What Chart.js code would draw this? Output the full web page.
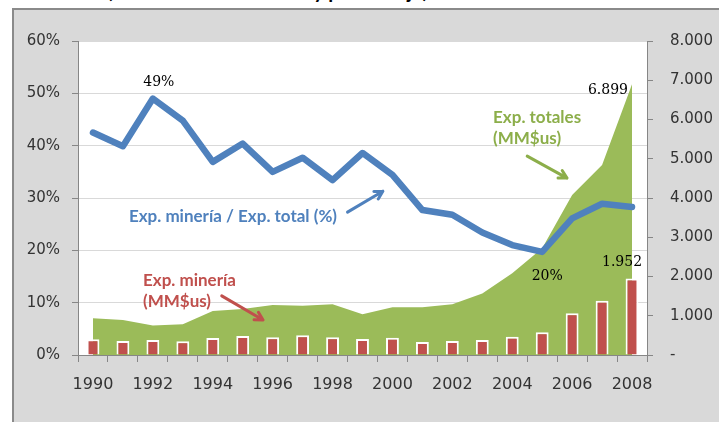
<!DOCTYPE html>
<html>
<head>
<meta charset="utf-8">
<script src="https://cdn.jsdelivr.net/npm/chart.js@4.4.1/dist/chart.umd.min.js"></script>
<style>
  html, body { margin: 0; padding: 0; background: #fff; }
  body { width: 719px; height: 422px; position: relative; overflow: hidden; }
  #title { position: absolute; left: 0; top: -22.5px; width: 535px; text-align: center;
           font: bold 20px Lato, sans-serif; color: #000; white-space: nowrap; }
  #frame { position: absolute; left: 12px; top: 8px; width: 720px; height: 420px;
           background: #d9d9d9; border-left: 2px solid #8a8a8a; border-top: 2px solid #8a8a8a; }
  #chart { position: absolute; left: 0; top: 0; }
</style>
</head>
<body>
<div id="title">(en millones de dólares y porcentaje)</div>
<div id="frame"></div>
<canvas id="chart" width="719" height="422"></canvas>
<script>
// Years on the category axis
const years = [1990, 1991, 1992, 1993, 1994, 1995, 1996, 1997, 1998, 1999,
               2000, 2001, 2002, 2003, 2004, 2005, 2006, 2007, 2008];

// Exp. minería / Exp. total (%)
const miningShare = [42.5, 39.9, 49.0, 44.8, 36.9, 40.4, 35.0, 37.7, 33.4, 38.6,
                     34.4, 27.7, 26.8, 23.4, 21.0, 19.7, 26.1, 28.9, 28.3];

// Exp. totales (MM$us)
const totalExports = [935, 890, 750, 785, 1120, 1170, 1275, 1255, 1290, 1040,
                      1215, 1215, 1290, 1570, 2080, 2720, 4075, 4840, 6899];

// Exp. minería (MM$us)
const miningExports = [400, 357, 382, 348, 433, 484, 450, 501, 450, 405,
                       441, 331, 357, 382, 467, 577, 1062, 1384, 1952];

// Axis tick values
const pctTicks = [0, 10, 20, 30, 40, 50, 60];
const usdTicks = [0, 1000, 2000, 3000, 4000, 5000, 6000, 7000, 8000];

const BLUE = '#4f81bd';
const GREEN = '#9bbb59';
const RED = '#c0504d';
const AXIS = '#868686';
const Y_FONT = { family: 'DejaVu Sans', size: 15 };
const X_FONT = { family: 'DejaVu Sans', size: 16 };

function fmtThousands(v) {
    if (v === 0) return '-';
    return String(Math.round(v)).replace(/\B(?=(\d{3})+(?!\d))/g, '.');
}

// Free text callouts with arrows, placed in data coordinates (category index, % axis)
const callouts = [
    { lines: ['Exp. minería / Exp. total (%)'], color: BLUE, x: 1.2, y: 26.4,
      arrow: [8.5, 27.3, 9.68, 31.3] },
    { lines: ['Exp. totales', '(MM$us)'], color: '#8cae4a', x: 13.36, y: 45.3,
      arrow: [14.5, 38.0, 15.83, 33.8] },
    { lines: ['Exp. minería', '(MM$us)'], color: RED, x: 1.67, y: 14.3,
      arrow: [4.3, 11.3, 5.68, 6.7] }
];

const plotBackground = {
    id: 'plotBackground',
    beforeDraw(chart) {
        const { ctx, chartArea: a } = chart;
        ctx.save();
        ctx.fillStyle = '#ffffff';
        ctx.fillRect(a.left, a.top, a.right - a.left, a.bottom - a.top);
        ctx.restore();
    }
};

function drawArrow(ctx, x1, y1, x2, y2, color) {
    const ang = Math.atan2(y2 - y1, x2 - x1);
    const head = 9;
    ctx.save();
    ctx.strokeStyle = color;
    ctx.lineWidth = 3;
    ctx.lineCap = 'round';
    ctx.lineJoin = 'round';
    ctx.beginPath();
    ctx.moveTo(x1, y1);
    ctx.lineTo(x2, y2);
    ctx.moveTo(x2 - head * Math.cos(ang - 0.5), y2 - head * Math.sin(ang - 0.5));
    ctx.lineTo(x2, y2);
    ctx.lineTo(x2 - head * Math.cos(ang + 0.5), y2 - head * Math.sin(ang + 0.5));
    ctx.stroke();
    ctx.restore();
}

const annotations = {
    id: 'annotations',
    afterDatasetsDraw(chart) {
        const { ctx, scales } = chart;
        const xs = scales.x, ys = scales.y;
        const px = i => xs.getPixelForValue(0) + i * (xs.getPixelForValue(1) - xs.getPixelForValue(0));

        // callouts
        ctx.save();
        ctx.font = 'bold 17px Lato, sans-serif';
        ctx.textBaseline = 'middle';
        ctx.textAlign = 'left';
        callouts.forEach(c => {
            ctx.fillStyle = c.color;
            c.lines.forEach((t, k) => {
                ctx.fillText(t, px(c.x), ys.getPixelForValue(c.y) + k * 21);
            });
            const a = c.arrow;
            drawArrow(ctx, px(a[0]), ys.getPixelForValue(a[1]), px(a[2]), ys.getPixelForValue(a[3]), c.color);
        });
        ctx.restore();

        // data labels
        const lineMeta = chart.getDatasetMeta(0).data;
        const barMeta = chart.getDatasetMeta(1).data;
        const areaMeta = chart.getDatasetMeta(2).data;
        const last = years.length - 1;
        const peak = years.indexOf(1992);
        const low = years.indexOf(2005);
        ctx.save();
        ctx.font = '14px "DejaVu Serif", serif';
        ctx.fillStyle = '#000';
        ctx.textBaseline = 'middle';
        ctx.textAlign = 'center';
        ctx.fillText(Math.round(miningShare[peak]) + '%', lineMeta[peak].x + 6, lineMeta[peak].y - 16);
        ctx.fillText(Math.round(miningShare[low]) + '%', lineMeta[low].x + 5, lineMeta[low].y + 24);
        ctx.fillText(fmtThousands(miningExports[last]), barMeta[last].x - 10, barMeta[last].y - 16);
        ctx.textAlign = 'right';
        ctx.fillText(fmtThousands(totalExports[last]), areaMeta[last].x - 4, areaMeta[last].y + 6);
        ctx.restore();
    }
};

const ctx = document.getElementById('chart').getContext('2d');

new Chart(ctx, {
    type: 'bar',
    data: {
        labels: years,
        datasets: [
            {
                type: 'line',
                label: 'Exp. minería / Exp. total (%)',
                data: miningShare,
                yAxisID: 'y',
                borderColor: BLUE,
                borderWidth: 6.5,
                borderJoinStyle: 'round',
                borderCapStyle: 'round',
                pointRadius: 0,
                tension: 0,
                fill: false,
                order: 1
            },
            {
                type: 'bar',
                label: 'Exp. minería (MM$us)',
                data: miningExports,
                yAxisID: 'y1',
                backgroundColor: RED,
                borderColor: '#ffffff',
                borderWidth: 2,
                barPercentage: 0.43,
                categoryPercentage: 1,
                order: 2
            },
            {
                type: 'line',
                label: 'Exp. totales (MM$us)',
                data: totalExports,
                yAxisID: 'y1',
                backgroundColor: GREEN,
                borderColor: 'rgba(0,0,0,0)',
                borderWidth: 0,
                pointRadius: 0,
                tension: 0,
                fill: 'origin',
                order: 3
            }
        ]
    },
    options: {
        responsive: false,
        animation: false,
        layout: { padding: { top: 41, left: 0, right: 0, bottom: 0 } },
        plugins: {
            legend: { display: false },
            tooltip: { enabled: false }
        },
        scales: {
            x: {
                grid: { offset: true, drawOnChartArea: false, tickLength: 7, color: AXIS },
                border: { color: AXIS },
                ticks: {
                    autoSkip: false,
                    maxRotation: 0,
                    padding: 13,
                    color: '#333',
                    font: X_FONT,
                    callback: (v, i) => (i % 2 === 0 ? String(years[i]) : '')
                },
                afterFit: s => { s.height = 67; }
            },
            y: {
                position: 'left',
                min: pctTicks[0],
                max: pctTicks[pctTicks.length - 1],
                afterBuildTicks: s => { s.ticks = pctTicks.map(v => ({ value: v })); },
                grid: { color: '#d9d9d9', tickColor: AXIS, tickLength: 6 },
                border: { color: AXIS },
                ticks: { padding: 12, color: '#333', font: Y_FONT, callback: v => v + '%' },
                afterFit: s => { s.width = 78; }
            },
            y1: {
                position: 'right',
                min: usdTicks[0],
                max: usdTicks[usdTicks.length - 1],
                afterBuildTicks: s => { s.ticks = usdTicks.map(v => ({ value: v })); },
                grid: { drawOnChartArea: false, color: AXIS, tickLength: 6 },
                border: { color: AXIS },
                ticks: { padding: 17, color: '#333', font: Y_FONT, callback: v => fmtThousands(v) },
                afterFit: s => { s.width = 72; }
            }
        }
    },
    plugins: [plotBackground, annotations]
});
</script>
</body>
</html>
